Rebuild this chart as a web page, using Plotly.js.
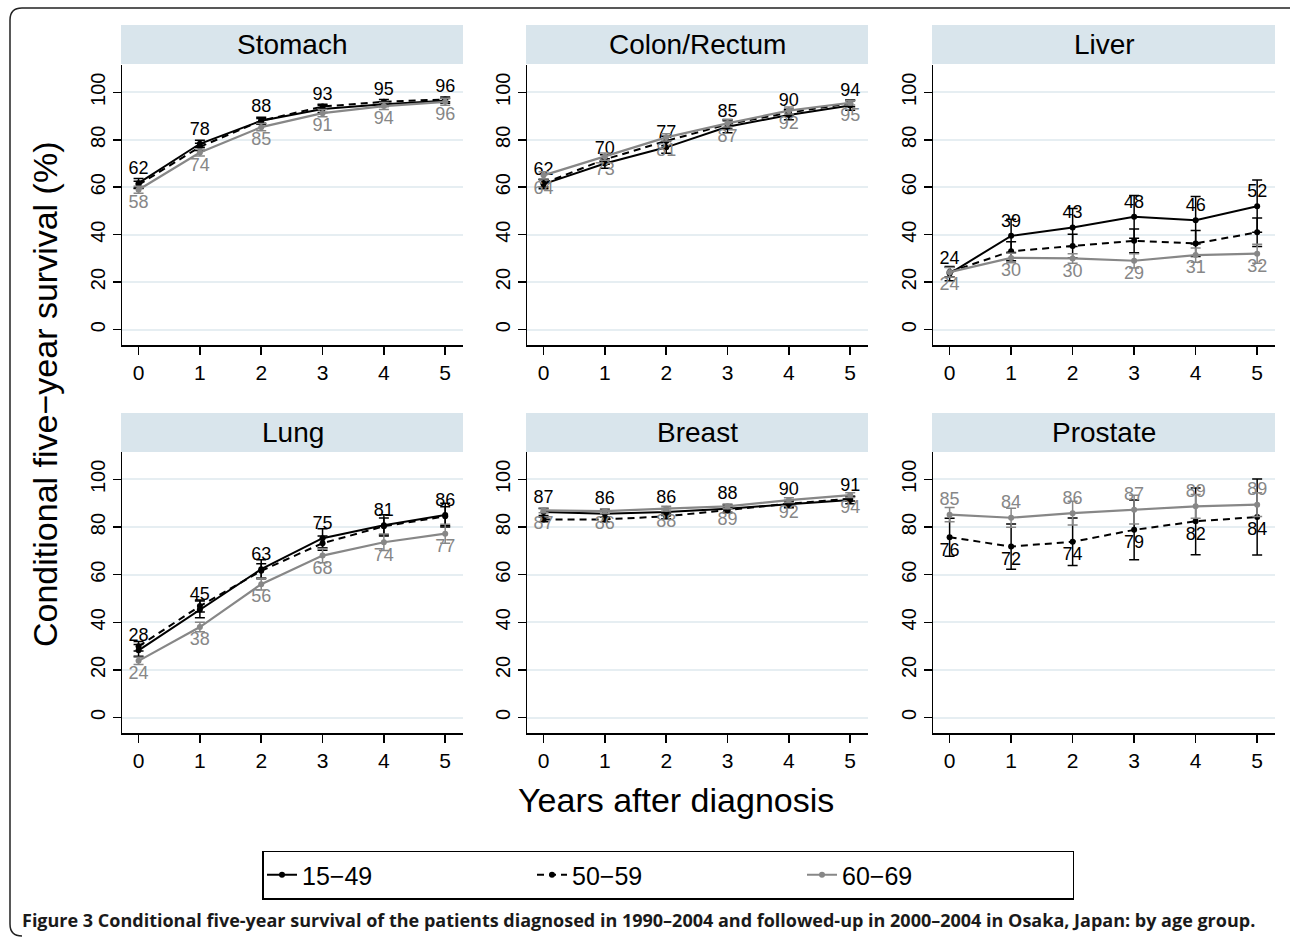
<!DOCTYPE html>
<html><head><meta charset="utf-8">
<script src="https://cdn.plot.ly/plotly-3.0.1.min.js"></script>
<style>html,body{margin:0;padding:0;background:#fff}#chart{width:1290px;height:938px}</style>
</head><body><div id="chart"></div>
<script>
// ---------- data ----------
const years = [0, 1, 2, 3, 4, 5];
const siteNames = ['Stomach', 'Colon/Rectum', 'Liver', 'Lung', 'Breast', 'Prostate'];
const groupNames = ['15\u221249', '50\u221259', '60\u221269'];
const yTickVals = [0, 20, 40, 60, 80, 100];
const xTickVals = [0, 1, 2, 3, 4, 5];

const stomach1549 = [61.7, 78.3, 88, 93, 95, 96.4];
const stomach5059 = [61, 77, 88, 94, 96, 97];
const stomach6069 = [58.9, 74.6, 85.3, 91.2, 94.2, 96];
const stomach1549Err = [2, 1.5, 1.5, 1.5, 1, 1];
const stomach5059Err = [1.5, 1.5, 1, 1, 1, 1];
const stomach6069Err = [1.5, 1.5, 1.5, 1.5, 1.5, 1.5];
const stomachTop = ['62', '78', '88', '93', '95', '96'];
const stomachBottom = ['58', '74', '85', '91', '94', '96'];

const colon1549 = [61.3, 70, 76.8, 85.5, 90.4, 94.4];
const colon5059 = [61.6, 71.7, 79.5, 86.5, 91.4, 95.4];
const colon6069 = [65, 72.9, 81, 86.9, 92.3, 95.6];
const colon1549Err = [2, 2, 2.5, 2.5, 2, 2];
const colon5059Err = [1.5, 2, 2, 2, 1.5, 1.5];
const colon6069Err = [1.5, 1.5, 1.5, 1.5, 1.5, 1];
const colonTop = ['62', '70', '77', '85', '90', '94'];
const colonBottom = ['64', '73', '81', '87', '92', '95'];

const liver1549 = [23.6, 39.5, 43, 47.5, 46.1, 52];
const liver5059 = [24.3, 33, 35.2, 37.4, 36.3, 41];
const liver6069 = [24.2, 30.2, 30, 29, 31.4, 32];
const liver1549Err = [3, 7, 8, 9, 10, 11];
const liver5059Err = [2, 4, 5, 5, 5.5, 6];
const liver6069Err = [2, 2, 2, 3, 3, 4];
const liverTop = ['24', '39', '43', '48', '46', '52'];
const liverBottom = ['24', '30', '30', '29', '31', '32'];

const lung1549 = [28.2, 45.4, 62.3, 75.3, 80.7, 85];
const lung5059 = [29.9, 46.8, 61.6, 73.2, 80.3, 84.5];
const lung6069 = [23.8, 38, 56, 68, 73.6, 77.2];
const lung1549Err = [2.5, 3.5, 4, 4, 4.5, 5];
const lung5059Err = [2, 2.5, 3, 3, 3.5, 4];
const lung6069Err = [1.5, 2, 2.5, 3, 3.5, 4];
const lungTop = ['28', '45', '63', '75', '81', '86'];
const lungBottom = ['24', '38', '56', '68', '74', '77'];

const breast1549 = [86.3, 85.6, 86.3, 87.7, 89.6, 91.3];
const breast5059 = [83.2, 83.2, 84.5, 87, 89.8, 91.9];
const breast6069 = [87, 86.7, 87.7, 88.7, 91.3, 93.4];
const breast1549Err = [1.5, 1.5, 1.5, 1.5, 1.5, 1.5];
const breast5059Err = [1, 1, 1, 1, 1, 1];
const breast6069Err = [1, 1, 1, 1, 1, 1];
const breastTop = ['87', '86', '86', '88', '90', '91'];
const breastBottom = ['87', '86', '88', '89', '92', '94'];

const prostate5059 = [75.7, 71.8, 73.8, 78.8, 82.4, 84.2];
const prostate6069 = [85.2, 83.9, 85.8, 87.3, 88.7, 89.4];
const prostate5059Err = [8, 9.5, 10, 12.5, 14, 16];
const prostate6069Err = [3, 4, 5, 6, 5, 5];
const prostateTop = ['85', '84', '86', '87', '89', '89'];
const prostateBottom = ['76', '72', '74', '79', '82', '84'];

// ---------- styles ----------
const W = 1290, H = 938;
const px = v => v / W;
const py = v => 1 - v / H;
const BLACK = '#000000', GRAY = '#878787';
const FONT = '"Liberation Sans", Arial, Helvetica, sans-serif';
const groupStyles = [
  {color: BLACK, dash: 'solid', width: 2},
  {color: BLACK, dash: '7px,5px', width: 2},
  {color: GRAY, dash: 'solid', width: 2.2}
];
const colsPx = [[122, 463], [527, 868], [933, 1275]];
const rowsPx = [[65, 345], [452, 733]];
const stripPx = [[25, 64], [413, 452]];

const panels = [
  {series: [stomach1549, stomach5059, stomach6069], errs: [stomach1549Err, stomach5059Err, stomach6069Err],
   labels: [stomachTop, null, stomachBottom], pos: ['top center', null, 'bottom center']},
  {series: [colon1549, colon5059, colon6069], errs: [colon1549Err, colon5059Err, colon6069Err],
   labels: [colonTop, null, colonBottom], pos: ['top center', null, 'bottom center']},
  {series: [liver1549, liver5059, liver6069], errs: [liver1549Err, liver5059Err, liver6069Err],
   labels: [liverTop, null, liverBottom], pos: ['top center', null, 'bottom center']},
  {series: [lung1549, lung5059, lung6069], errs: [lung1549Err, lung5059Err, lung6069Err],
   labels: [lungTop, null, lungBottom], pos: ['top center', null, 'bottom center']},
  {series: [breast1549, breast5059, breast6069], errs: [breast1549Err, breast5059Err, breast6069Err],
   labels: [breastTop, null, breastBottom], pos: ['top center', null, 'bottom center']},
  {series: [null, prostate5059, prostate6069], errs: [null, prostate5059Err, prostate6069Err],
   labels: [null, prostateBottom, prostateTop], pos: [null, 'bottom center', 'top center']}
];

const traces = [];
const layout = {
  width: W, height: H,
  margin: {l: 0, r: 0, t: 0, b: 0},
  paper_bgcolor: '#ffffff', plot_bgcolor: '#ffffff',
  font: {family: FONT, color: BLACK},
  showlegend: true,
  legend: {
    orientation: 'h', x: px(668), xanchor: 'center', y: py(875), yanchor: 'middle',
    bordercolor: BLACK, borderwidth: 1.5, bgcolor: '#ffffff',
    font: {size: 25, family: FONT},
    entrywidth: 225, entrywidthmode: 'pixels', itemclick: false, itemdoubleclick: false
  },
  shapes: [], annotations: []
};

panels.forEach((p, i) => {
  const r = Math.floor(i / 3), c = i % 3;
  const n = i + 1;
  const xa = 'xaxis' + (n === 1 ? '' : n), ya = 'yaxis' + (n === 1 ? '' : n);
  const xr = 'x' + (n === 1 ? '' : n), yr = 'y' + (n === 1 ? '' : n);
  layout[xa] = {
    domain: [px(colsPx[c][0]), px(colsPx[c][1])], anchor: yr,
    range: [-0.27, 5.29], tickvals: xTickVals, showgrid: false, zeroline: false,
    showline: true, linecolor: BLACK, linewidth: 1.5,
    ticks: 'outside', ticklen: 8, tickwidth: 1.5, tickcolor: BLACK,
    tickfont: {size: 21, color: BLACK, family: FONT}, fixedrange: true
  };
  layout[ya] = {
    domain: [py(rowsPx[r][1]), py(rowsPx[r][0])], anchor: xr,
    range: [-6.5, 111.5], tickvals: yTickVals, showgrid: true,
    gridcolor: '#e6eef2', gridwidth: 2, zeroline: false,
    showline: true, linecolor: BLACK, linewidth: 1.5,
    ticks: 'outside', ticklen: 8, tickwidth: 1.5, tickcolor: BLACK,
    tickangle: -90, tickfont: {size: 20, color: BLACK, family: FONT}, fixedrange: true
  };
  // strip header
  layout.shapes.push({type: 'rect', xref: 'paper', yref: 'paper', layer: 'below',
    x0: px(colsPx[c][0] - 1), x1: px(colsPx[c][1]), y0: py(stripPx[r][1]), y1: py(stripPx[r][0]),
    fillcolor: '#d9e5ec', line: {width: 0}});
  layout.annotations.push({xref: 'paper', yref: 'paper', showarrow: false,
    x: px((colsPx[c][0] + colsPx[c][1]) / 2), y: py((stripPx[r][0] + stripPx[r][1]) / 2),
    xanchor: 'center', yanchor: 'middle', text: siteNames[i], font: {size: 28, color: BLACK, family: FONT}});

  p.series.forEach((vals, g) => {
    if (!vals) return;
    const st = groupStyles[g];
    const hasLab = !!p.labels[g];
    traces.push({
      type: 'scatter', x: years, y: vals, xaxis: xr, yaxis: yr,
      mode: hasLab ? 'lines+markers+text' : 'lines+markers',
      name: groupNames[g], legendgroup: 'g' + g, showlegend: i === 0,
      line: {color: st.color, dash: st.dash, width: st.width},
      marker: {color: st.color, size: 6},
      error_y: {type: 'data', array: p.errs[g], visible: true, color: st.color, thickness: 1.5, width: 5},
      text: hasLab ? p.labels[g] : undefined,
      textposition: hasLab ? p.pos[g] : undefined,
      textfont: {size: 18, color: st.color, family: FONT},
      cliponaxis: false, hoverinfo: 'skip'
    });
  });
});

// axis titles
layout.annotations.push({xref: 'paper', yref: 'paper', showarrow: false,
  x: px(45), y: py(395), textangle: -90, xanchor: 'center', yanchor: 'middle',
  text: 'Conditional five\u2212year survival (%)', font: {size: 34, color: BLACK, family: FONT}});
layout.annotations.push({xref: 'paper', yref: 'paper', showarrow: false,
  x: px(676), y: py(800), xanchor: 'center', yanchor: 'middle',
  text: 'Years after diagnosis', font: {size: 34, color: BLACK, family: FONT}});
// caption
layout.annotations.push({xref: 'paper', yref: 'paper', showarrow: false,
  x: px(20), y: py(920), xanchor: 'left', yanchor: 'middle',
  text: '<b>Figure 3 Conditional five-year survival of the patients diagnosed in 1990\u20132004 and followed-up in 2000\u20132004 in Osaka, Japan: by age group.</b>',
  font: {size: 18, color: '#1a1a1a', family: '"Open Sans", sans-serif'}});
// outer frame
const fx = v => px(v).toFixed(5), fy = v => py(v).toFixed(5);
layout.shapes.push({type: 'path', xref: 'paper', yref: 'paper', layer: 'above',
  path: 'M' + fx(1290) + ',' + fy(8) + ' L' + fx(22) + ',' + fy(8) +
        ' Q' + fx(10) + ',' + fy(8) + ' ' + fx(10) + ',' + fy(20) +
        ' L' + fx(10) + ',' + fy(924) + ' Q' + fx(10) + ',' + fy(936) + ' ' + fx(22) + ',' + fy(936),
  line: {color: '#222222', width: 1.5}});

Plotly.newPlot('chart', traces, layout, {displayModeBar: false, staticPlot: true});
</script>
</body></html>
